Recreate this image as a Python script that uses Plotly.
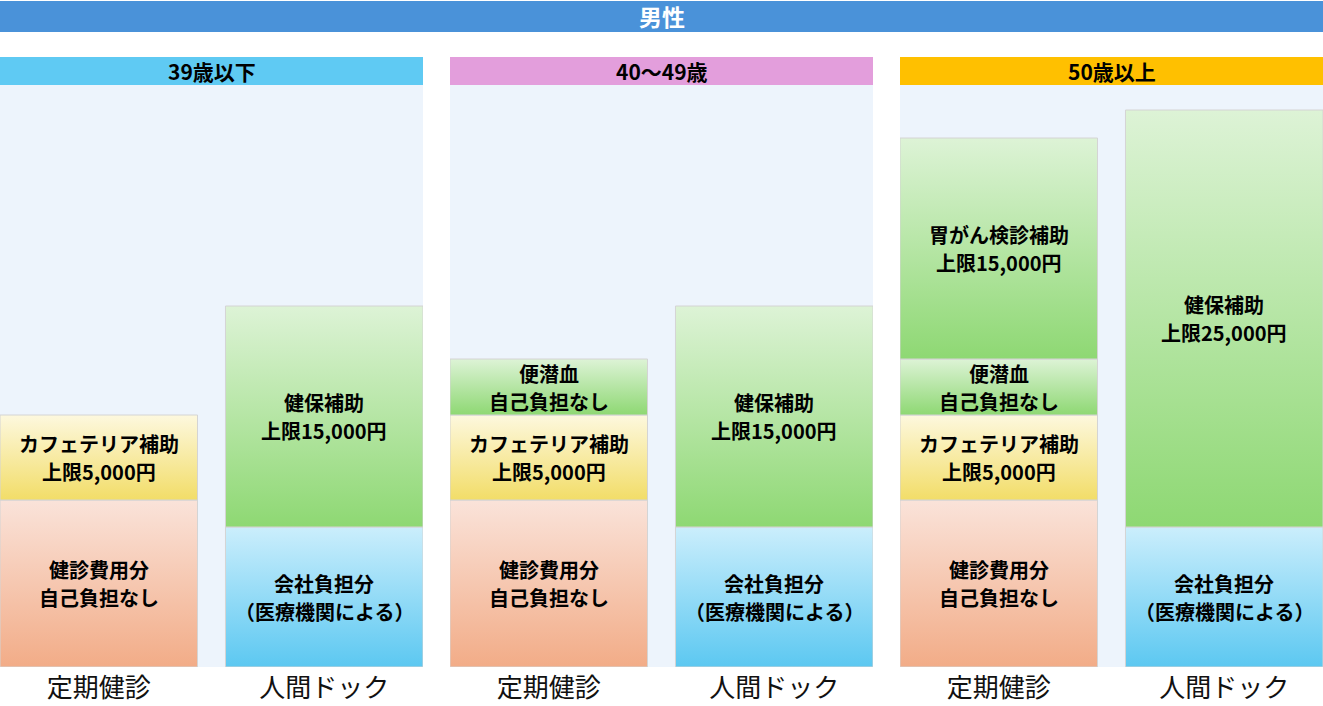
import plotly.graph_objects as go

# ---------------- data ----------------
title_text = "男性"
groups = ["39歳以下", "40～49歳", "50歳以上"]
categories = ["定期健診", "人間ドック"]

# segment heights (illustrative units), one value per age group
kenshin_hiyou = [16.7, 16.7, 16.7]   # 健診費用分 自己負担なし
cafeteria = [8.5, 8.5, 8.5]          # カフェテリア補助
benseniketsu = [0.0, 5.6, 5.6]       # 便潜血
igan = [0.0, 0.0, 22.1]              # 胃がん検診補助
kaisha = [14.0, 14.0, 14.0]          # 会社負担分
kenpo = [22.1, 22.1, 41.7]           # 健保補助

kenshin_label = ["健診費用分", "自己負担なし"]
cafeteria_label = ["カフェテリア補助", "上限5,000円"]
benseniketsu_label = ["便潜血", "自己負担なし"]
igan_label = ["胃がん検診補助", "上限15,000円"]
kaisha_label = ["会社負担分", "（医療機関による）"]
kenpo_labels = [["健保補助", "上限15,000円"], ["健保補助", "上限15,000円"], ["健保補助", "上限25,000円"]]

# ---------------- styles ----------------
W, H = 1323, 706
FONT = "Noto Sans CJK JP"
header_colors = ["#5FCAF3", "#E39EDC", "#FFC000"]
grad = {
    "kenshin": ("#F2AC87", "#FAE3DA"),
    "cafe": ("#F2DD68", "#FDF8DE"),
    "green": ("#8ED873", "#DDF3D6"),
    "blue": ("#5CC8F1", "#CBEEFC"),
}
bar_w = 0.876
x_range = [-bar_w / 2, 1 + bar_w / 2]
y_max = 58.2
domains = [[0, 423 / W], [450 / W, 873 / W], [900 / W, 1.0]]
y_dom = [(H - 667) / H, (H - 85) / H]

fig = go.Figure()


def add_segment(ax, xi, base, h, colors, label):
    if h <= 0:
        return
    x0, x1 = xi - bar_w / 2, xi + bar_w / 2
    y0, y1 = base, base + h
    fig.add_trace(go.Scatter(
        x=[x0, x1, x1, x0, x0], y=[y0, y0, y1, y1, y0],
        mode="lines", fill="toself",
        line=dict(color="#D4D4D4", width=1),
        fillgradient=dict(type="vertical",
                          colorscale=[[0, colors[0]], [1, colors[1]]]),
        xaxis="x" + ax, yaxis="y" + ax,
        hoverinfo="skip", showlegend=False,
    ))
    xr = "x" + ax
    yr = "y" + ax
    for line, shift in zip(label, [14, -14]):
        fig.add_annotation(x=xi, y=(y0 + y1) / 2, xref=xr, yref=yr,
                           text="<b>" + line + "</b>", showarrow=False,
                           yshift=shift, yanchor="middle",
                           font=dict(family=FONT, size=20, color="#000000"))


for g in range(3):
    ax = "" if g == 0 else str(g + 1)
    # 定期健診 stack
    base = 0.0
    add_segment(ax, 0, base, kenshin_hiyou[g], grad["kenshin"], kenshin_label)
    base += kenshin_hiyou[g]
    add_segment(ax, 0, base, cafeteria[g], grad["cafe"], cafeteria_label)
    base += cafeteria[g]
    add_segment(ax, 0, base, benseniketsu[g], grad["green"], benseniketsu_label)
    base += benseniketsu[g]
    add_segment(ax, 0, base, igan[g], grad["green"], igan_label)
    # 人間ドック stack
    base = 0.0
    add_segment(ax, 1, base, kaisha[g], grad["blue"], kaisha_label)
    base += kaisha[g]
    add_segment(ax, 1, base, kenpo[g], grad["green"], kenpo_labels[g])

    xa = dict(domain=domains[g], range=x_range, tickvals=[0, 1], ticktext=categories,
              showgrid=False, zeroline=False, showline=False, ticks="",
              ticklabelstandoff=3,
              tickfont=dict(family=FONT, size=26, color="#111111"), fixedrange=True)
    ya = dict(domain=y_dom, range=[0, y_max], showgrid=False, zeroline=False,
              showticklabels=False, showline=False, ticks="", fixedrange=True)
    if g > 0:
        ya["anchor"] = "x" + ax
        xa["anchor"] = "y" + ax
    fig.update_layout(**{"xaxis" + ax: xa, "yaxis" + ax: ya})

    # header bar
    fig.add_shape(type="rect", xref="paper", yref="paper",
                  x0=domains[g][0], x1=domains[g][1],
                  y0=(H - 85) / H, y1=(H - 57) / H,
                  fillcolor=header_colors[g], line=dict(width=0), layer="below")
    fig.add_annotation(xref="paper", yref="paper",
                       x=(domains[g][0] + domains[g][1]) / 2, y=(H - 71) / H,
                       xanchor="center", yanchor="middle",
                       text="<b>" + groups[g] + "</b>", showarrow=False,
                       font=dict(family=FONT, size=21, color="#000000"))

# title bar
fig.add_shape(type="rect", xref="paper", yref="paper", x0=0, x1=1,
              y0=(H - 32) / H, y1=(H - 1) / H,
              fillcolor="#4A92D9", line=dict(width=0), layer="below")
fig.add_annotation(xref="paper", yref="paper", x=0.5, y=(H - 16) / H,
                   xanchor="center", yanchor="middle",
                   text="<b>" + title_text + "</b>", showarrow=False,
                   font=dict(family=FONT, size=23, color="#FFFFFF"))

fig.update_layout(width=W, height=H, margin=dict(l=0, r=0, t=0, b=0),
                  paper_bgcolor="#FFFFFF", plot_bgcolor="#EDF4FC",
                  showlegend=False)

fig.write_html("out.html", config={"displayModeBar": False},
               post_script="document.body.style.margin='0';document.body.style.overflow='hidden';")
